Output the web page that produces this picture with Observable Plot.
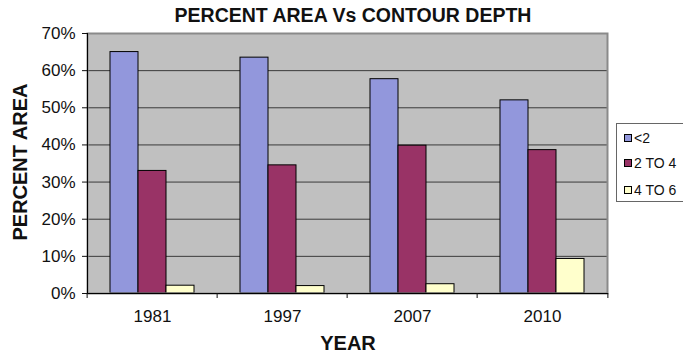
<!DOCTYPE html>
<html>
<head>
<meta charset="utf-8">
<script src="https://cdn.jsdelivr.net/npm/d3@7"></script>
<script src="https://cdn.jsdelivr.net/npm/@observablehq/plot@0.6"></script>
<style>
  html, body { margin: 0; padding: 0; background: #fff; }
  #wrap { position: relative; width: 683px; height: 356px; font-family: "Liberation Sans", Arial, sans-serif; color: #111; }
  #title { position: absolute; left: 353px; top: 15px; transform: translate(-50%, -50%); font-weight: bold; font-size: 19.5px; white-space: nowrap; }
  #ylab { position: absolute; left: 20px; top: 162px; transform: translate(-50%, -50%) rotate(-90deg); font-weight: bold; font-size: 20px; white-space: nowrap; }
  #xlab { position: absolute; left: 348px; top: 343px; transform: translate(-50%, -50%); font-weight: bold; font-size: 20px; }
  #legend { position: absolute; left: 616px; top: 123px; width: 80px; height: 79px; border: 1px solid #666; box-sizing: border-box; background: #fff; font-size: 14px; }
  .item { position: absolute; left: 7px; display: flex; align-items: center; white-space: nowrap; transform: translateY(-50%); }
  .sw { width: 6px; height: 6px; border: 1px solid #000; margin-right: 2px; }
</style>
</head>
<body>
<div id="wrap">
  <div id="chart"></div>
  <div id="title"></div>
  <div id="ylab"></div>
  <div id="xlab"></div>
  <div id="legend"></div>
</div>
<script>
const years = ["1981", "1997", "2007", "2010"];
const series = ["<2", "2 TO 4", "4 TO 6"];
const under2 = [65.0, 63.5, 57.7, 52.0];
const twoTo4 = [33.0, 34.5, 39.8, 38.6];
const fourTo6 = [2.1, 2.0, 2.5, 9.3];
const colors = ["#9297dc", "#993366", "#ffffcc"];
const yTicks = [0, 10, 20, 30, 40, 50, 60, 70];
const titleText = "PERCENT AREA Vs CONTOUR DEPTH";
const yLabel = "PERCENT AREA";
const xLabel = "YEAR";

const values = [under2, twoTo4, fourTo6];
const data = [];
years.forEach((yr, i) => series.forEach((s, j) => data.push({year: yr, series: s, value: values[j][i]})));

const W = 683, H = 356, ML = 85, MR = 75, MT = 33, MB = 63;
const bw = (W - ML - MR) / years.length;

const chart = Plot.plot({
  width: W, height: H,
  marginLeft: ML, marginRight: MR, marginTop: MT, marginBottom: MB,
  style: {fontFamily: "Liberation Sans, Arial, sans-serif", fontSize: "17px", color: "#111", background: "transparent"},
  fx: {domain: years, padding: 0, label: null},
  x: {domain: series, paddingInner: 0, paddingOuter: 0.76, axis: null},
  y: {domain: [0, 70], label: null},
  color: {domain: series, range: colors},
  marks: [
    Plot.frame({fill: "#c0c0c0", facet: "super"}),
    Plot.ruleY(yTicks.slice(1, -1), {stroke: "#3a3a3a", strokeWidth: 1}),
    Plot.barY(data, {fx: "year", x: "series", y: "value", fill: "series", stroke: "#000", strokeWidth: 1}),
    Plot.frame({stroke: "#8a8a8a", strokeWidth: 2, facet: "super"}),
    Plot.frame({anchor: "left", stroke: "#000", facet: "super"}),
    Plot.frame({anchor: "bottom", stroke: "#000", facet: "super"}),
    Plot.axisY({ticks: yTicks, tickFormat: d => d + "%", tickSize: 5, tickPadding: 7, fontSize: 17, label: null}),
    Plot.axisFx({anchor: "bottom", tickSize: 0, tickPadding: 16, fontSize: 17, label: null}),
    Plot.axisFx({anchor: "bottom", tickSize: 5, tickFormat: () => "", dx: -bw / 2, label: null}),
    Plot.axisFx({anchor: "bottom", ticks: [years[years.length - 1]], tickSize: 5, tickFormat: () => "", dx: bw / 2, label: null})
  ]
});
document.getElementById("chart").appendChild(chart);

document.getElementById("title").textContent = titleText;
document.getElementById("ylab").textContent = yLabel;
document.getElementById("xlab").textContent = xLabel;

const legend = document.getElementById("legend");
const rowCenters = [14, 39, 66];
series.forEach((s, i) => {
  const it = document.createElement("div");
  it.className = "item";
  it.style.top = rowCenters[i] + "px";
  const sw = document.createElement("div");
  sw.className = "sw";
  sw.style.background = colors[i];
  const t = document.createElement("span");
  t.textContent = s;
  it.appendChild(sw); it.appendChild(t);
  legend.appendChild(it);
});
</script>
</body>
</html>
